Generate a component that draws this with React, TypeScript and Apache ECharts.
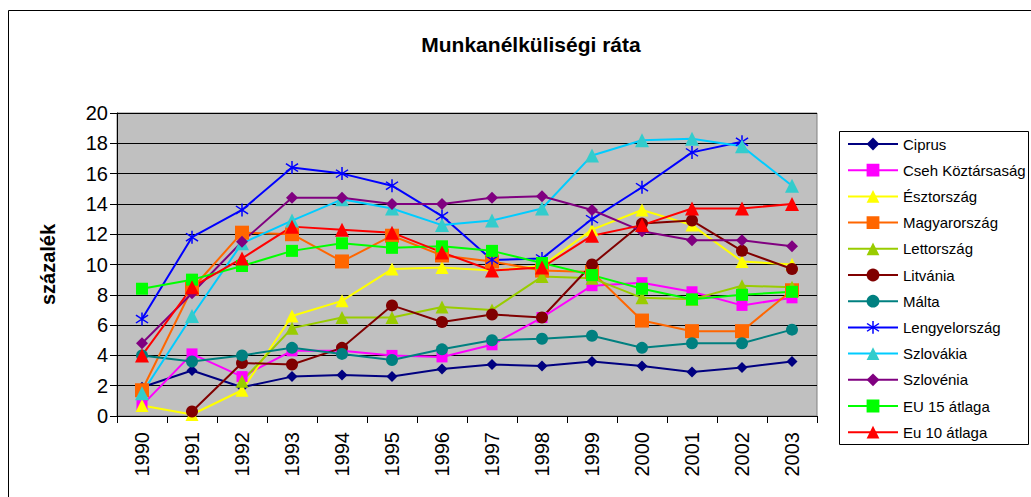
import React, { useEffect, useRef } from "react";
import * as echarts from "echarts";

const years = ["1990", "1991", "1992", "1993", "1994", "1995", "1996", "1997", "1998", "1999", "2000", "2001", "2002", "2003"];
const yTicks = { min: 0, max: 20, interval: 2 };

const ciprus = [1.9, 3.0, 1.9, 2.6, 2.7, 2.6, 3.1, 3.4, 3.3, 3.6, 3.3, 2.9, 3.2, 3.6];
const cseh = [0.7, 4.1, 2.6, 4.3, 4.3, 4.0, 3.9, 4.7, 6.5, 8.6, 8.8, 8.2, 7.3, 7.8];
const esztorszag = [0.7, 0.1, 1.7, 6.6, 7.6, 9.7, 9.8, 9.6, 9.9, 12.3, 13.6, 12.6, 10.2, 10.0];
const magyarorszag = [1.7, 8.4, 12.1, 12.0, 10.2, 11.9, 10.6, 10.2, 9.6, 9.5, 6.3, 5.6, 5.6, 8.3];
const lettorszag = [null, null, 2.3, 5.8, 6.5, 6.5, 7.2, 7.0, 9.2, 9.1, 7.8, 7.7, 8.6, 8.5];
const litvania = [null, 0.3, 3.5, 3.4, 4.5, 7.3, 6.2, 6.7, 6.5, 10.0, 12.7, 12.9, 10.9, 9.7];
const malta = [4.0, 3.6, 4.0, 4.5, 4.1, 3.7, 4.4, 5.0, 5.1, 5.3, 4.5, 4.8, 4.8, 5.7];
const lengyelorszag = [6.4, 11.8, 13.6, 16.4, 16.0, 15.2, 13.2, 10.3, 10.4, 13.0, 15.1, 17.4, 18.1, null];
const szlovakia = [1.5, 6.6, 11.4, 12.9, 14.3, 13.7, 12.6, 12.9, 13.7, 17.2, 18.2, 18.3, 17.8, 15.2];
const szlovenia = [4.8, 8.1, 11.5, 14.4, 14.4, 14.0, 14.0, 14.4, 14.5, 13.6, 12.2, 11.6, 11.6, 11.2];
const eu15 = [8.4, 9.0, 9.9, 10.9, 11.4, 11.1, 11.2, 10.9, 10.1, 9.3, 8.4, 7.7, 8.0, 8.2];
const eu10 = [4.0, 8.5, 10.4, 12.5, 12.3, 12.1, 10.8, 9.6, 9.8, 11.9, 12.6, 13.7, 13.7, 14.0];

const asterisk =
  "path://M9 0H11V20H9Z M2.6 3.2L18.6 15.2L17.4 16.8L1.4 4.8Z M2.6 16.8L1.4 15.2L17.4 3.2L18.6 4.8Z";

const FONT = "'Liberation Sans', Arial, sans-serif";

const seriesDefs = [
  { name: "Ciprus", data: ciprus, color: "#000080", symbol: "diamond", size: 11 },
  { name: "Cseh Köztársaság", data: cseh, color: "#FF00FF", symbol: "rect", size: 11 },
  { name: "Észtország", data: esztorszag, color: "#FFFF00", symbol: "triangle", size: 13 },
  { name: "Magyarország", data: magyarorszag, color: "#FF6600", symbol: "rect", size: 14 },
  { name: "Lettország", data: lettorszag, color: "#99CC00", symbol: "triangle", size: 13 },
  { name: "Litvánia", data: litvania, color: "#800000", symbol: "circle", size: 12 },
  { name: "Málta", data: malta, color: "#008080", symbol: "circle", size: 12 },
  { name: "Lengyelország", data: lengyelorszag, color: "#0000FF", symbol: asterisk, size: 13 },
  { name: "Szlovákia", data: szlovakia, color: "#00CCFF", marker: "#33CCCC", symbol: "triangle", size: 14 },
  { name: "Szlovénia", data: szlovenia, color: "#800080", symbol: "diamond", size: 12 },
  { name: "EU 15 átlaga", data: eu15, color: "#00FF00", symbol: "rect", size: 12 },
  { name: "Eu 10 átlaga", data: eu10, color: "#FF0000", symbol: "triangle", size: 14 },
];

export default function App() {
  const ref = useRef<HTMLDivElement>(null);
  useEffect(() => {
    if (!ref.current) return;
    const chart = echarts.init(ref.current, null, { renderer: "svg" });
    chart.setOption({
      animation: false,
      backgroundColor: "#FFFFFF",
      textStyle: { fontFamily: FONT },
      title: {
        text: "Munkanélküliségi ráta",
        left: 526,
        top: 29,
        textAlign: "center",
        textStyle: { fontFamily: FONT, fontSize: 21, fontWeight: "bold", color: "#000" },
      },
      graphic: [
        {
          type: "rect",
          shape: { x: 8.5, y: 10.5, width: 1100, height: 600 },
          style: { fill: "none", stroke: "#000", lineWidth: 1 },
          silent: true,
          z: -10,
        },
        {
          type: "rect",
          shape: { x: 839.5, y: 131.5, width: 189, height: 313 },
          style: { fill: "#fff", stroke: "#000", lineWidth: 1 },
          silent: true,
          z: -5,
        },
      ],
      grid: {
        left: 117,
        top: 113,
        right: 214,
        bottom: 81,
        show: true,
        backgroundColor: "#C0C0C0",
        borderColor: "#808080",
        borderWidth: 1,
      },
      legend: {
        orient: "vertical",
        left: 847,
        top: 136,
        itemWidth: 50,
        itemHeight: 16,
        itemGap: 10.2,
        padding: 0,
        textStyle: { fontFamily: FONT, fontSize: 15, color: "#000", lineHeight: 16 },
        data: seriesDefs.map((s) => s.name),
      },
      xAxis: {
        type: "category",
        data: years,
        boundaryGap: true,
        axisLine: { lineStyle: { color: "#000", width: 1 } },
        axisTick: { show: true, length: 7, lineStyle: { color: "#000" } },
        axisLabel: { rotate: 90, fontSize: 20, color: "#000", margin: 16, fontFamily: FONT },
        splitLine: { show: false },
      },
      yAxis: {
        type: "value",
        min: yTicks.min,
        max: yTicks.max,
        interval: yTicks.interval,
        name: "százalék",
        nameLocation: "middle",
        nameRotate: 90,
        nameGap: 59,
        nameTextStyle: { fontFamily: FONT, fontSize: 20, fontWeight: "bold", color: "#000" },
        axisLine: { show: true, lineStyle: { color: "#000", width: 1 } },
        axisTick: { show: true, length: 7, lineStyle: { color: "#000" } },
        axisLabel: { fontSize: 20, color: "#000", margin: 9, fontFamily: FONT },
        splitLine: { show: true, lineStyle: { color: "#000", width: 1 } },
      },
      series: seriesDefs.map((s) => ({
        name: s.name,
        type: "line",
        data: s.data,
        symbol: s.symbol,
        symbolSize: s.size,
        showSymbol: true,
        connectNulls: false,
        lineStyle: { color: s.color, width: 2 },
        itemStyle: { color: (s as any).marker || s.color },
        emphasis: { disabled: true },
      })),
    });
    return () => chart.dispose();
  }, []);
  return (
    <div
      ref={ref}
      style={{ position: "fixed", left: 0, top: 0, width: 1031, height: 497 }}
    />
  );
}
